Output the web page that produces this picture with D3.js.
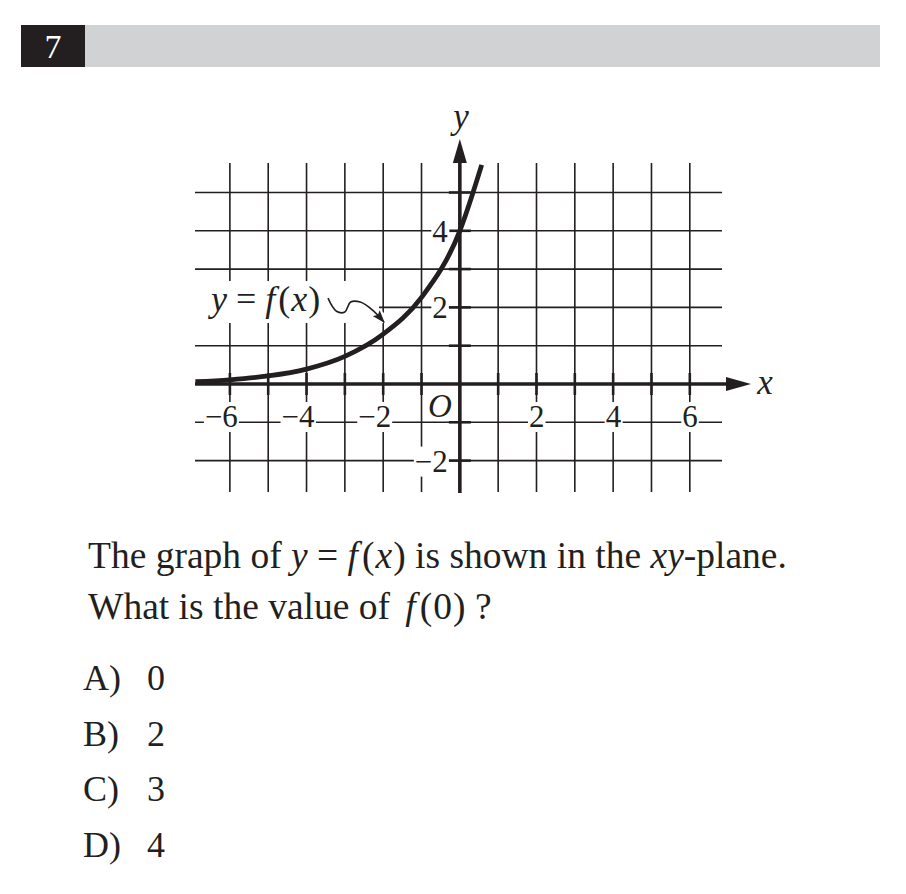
<!DOCTYPE html>
<html><head><meta charset="utf-8">
<script src="https://cdn.jsdelivr.net/npm/d3@7"></script>
<style>body{margin:0;background:#fff} svg{display:block}</style>
</head><body><svg id="c" width="906" height="894"></svg>
<script>
// ---- data ----
const curveX = [-6.9, -6, -5, -4, -3, -2, -1, 0, 0.57];
const curveY = [0.06, 0.11, 0.21, 0.39, 0.72, 1.3, 2.26, 4, 5.72];
const gridX = [-6, -5, -4, -3, -2, -1, 1, 2, 3, 4, 5, 6];
const gridY = [-2, -1, 1, 2, 3, 4, 5];
const xTickLabels = [-6, -4, -2, 2, 4, 6];
const yTickLabels = [4, 2, -2];
const squiggleX = [-3.44, -3.22, -3.0, -2.85, -2.6, -2.3, -1.98];
const squiggleY = [2.24, 1.9, 1.88, 2.14, 2.14, 1.95, 1.62];
const questionNumber = "7";
const choiceLetters = ["A)", "B)", "C)", "D)"];
const choiceValues = ["0", "2", "3", "4"];

const ink = "#231f20";
const serif = "'Liberation Serif', 'DejaVu Serif', serif";
const svg = d3.select("#c");

// header
svg.append("rect").attr("x", 85).attr("y", 25).attr("width", 795).attr("height", 42).attr("fill", "#d1d2d4");
svg.append("rect").attr("x", 21).attr("y", 25).attr("width", 64).attr("height", 42).attr("fill", ink);
svg.append("text").attr("x", 53).attr("y", 58).attr("text-anchor", "middle")
  .attr("font-family", serif).attr("font-size", 34).attr("fill", "#fff").text(questionNumber);

// scales
const x = d3.scaleLinear().domain([-6.91, 6.84]).range([195, 722]);
const y = d3.scaleLinear().domain([-2.82, 5.77]).range([492, 163]);
const [xmin, xmax] = x.domain(), [ymin, ymax] = y.domain();

const g = svg.append("g");
// grid
g.selectAll(".vg").data(gridX).join("line")
  .attr("x1", d => x(d)).attr("x2", d => x(d)).attr("y1", y(ymax)).attr("y2", y(ymin))
  .attr("stroke", ink).attr("stroke-width", 1.6);
g.selectAll(".hg").data(gridY).join("line")
  .attr("y1", d => y(d)).attr("y2", d => y(d)).attr("x1", x(xmin)).attr("x2", x(xmax))
  .attr("stroke", ink).attr("stroke-width", 1.6);
// ticks
g.selectAll(".xt").data(gridX).join("line")
  .attr("x1", d => x(d)).attr("x2", d => x(d)).attr("y1", y(0) - 11).attr("y2", y(0) + 11)
  .attr("stroke", ink).attr("stroke-width", 2.6);
g.selectAll(".yt").data(gridY).join("line")
  .attr("y1", d => y(d)).attr("y2", d => y(d)).attr("x1", x(0) - 11).attr("x2", x(0) + 11)
  .attr("stroke", ink).attr("stroke-width", 2.6);

// label with white background
function bgText(parent, build) {
  const grp = parent.append("g");
  const t = build(grp);
  const b = t.node().getBBox();
  grp.insert("rect", "text").attr("x", b.x - 1).attr("y", b.y + 3).attr("width", b.width + 2).attr("height", b.height - 5).attr("fill", "#fff");
  return grp;
}
xTickLabels.forEach(v => {
  bgText(g, p => p.append("text").attr("x", x(v) + 8).attr("y", y(0) + 43).attr("text-anchor", "end")
    .attr("font-family", serif).attr("font-size", 31).attr("fill", ink)
    .text((v < 0 ? "\u2212" : "") + Math.abs(v)));
});
yTickLabels.forEach(v => {
  bgText(g, p => p.append("text").attr("x", x(0) - 12).attr("y", y(v) + 11).attr("text-anchor", "end")
    .attr("font-family", serif).attr("font-size", 31).attr("fill", ink)
    .text((v < 0 ? "\u2212" : "") + Math.abs(v)));
});
g.append("text").attr("x", x(0) - 20).attr("y", y(0) + 33).attr("text-anchor", "middle")
  .attr("font-family", serif).attr("font-style", "italic").attr("font-size", 33).attr("fill", ink).text("O");

// function label
const lab = g.append("g");
lab.append("rect").attr("x", x(xmin)).attr("y", 281).attr("width", 184).attr("height", 42).attr("fill", "#fff");
const lt = lab.append("text").attr("x", 211).attr("y", 311).attr("font-family", serif).attr("font-size", 36).attr("fill", ink);
lt.append("tspan").attr("font-style", "italic").text("y");
lt.append("tspan").text(" = ");
lt.append("tspan").attr("font-style", "italic").text("f");
lt.append("tspan").attr("dx", 3).text("(");
lt.append("tspan").attr("font-style", "italic").attr("dx", 1).text("x");
lt.append("tspan").attr("dx", 1).text(")");

const defs = svg.append("defs");
defs.append("marker").attr("id", "ah").attr("viewBox", "0 0 10 10").attr("refX", 9).attr("refY", 5)
  .attr("markerWidth", 13).attr("markerHeight", 9).attr("markerUnits", "userSpaceOnUse").attr("orient", "auto")
  .attr("preserveAspectRatio", "none")
  .append("path").attr("d", "M0,0 L10,5 L0,10 L2,5 Z").attr("fill", ink);
const sq = d3.line().x((d, i) => x(squiggleX[i])).y((d, i) => y(squiggleY[i])).curve(d3.curveCatmullRom);
g.append("path").datum(squiggleX).attr("d", sq).attr("fill", "none").attr("stroke", "#fff").attr("stroke-width", 12);
g.append("path").datum(squiggleX).attr("d", sq).attr("fill", "none").attr("stroke", ink).attr("stroke-width", 1.6)
  .attr("marker-end", "url(#ah)");

// axes
g.append("line").attr("x1", x(xmin)).attr("x2", 730).attr("y1", y(0)).attr("y2", y(0)).attr("stroke", ink).attr("stroke-width", 3.6);
g.append("path").attr("d", `M${751},${y(0)} L${726},${y(0) - 7} L${726},${y(0) + 7} Z`).attr("fill", ink);
g.append("line").attr("x1", x(0)).attr("x2", x(0)).attr("y1", y(ymin) + 1).attr("y2", 158).attr("stroke", ink).attr("stroke-width", 3.6);
g.append("path").attr("d", `M${x(0)},${139} L${x(0) - 7},${163} L${x(0) + 7},${163} Z`).attr("fill", ink);
g.append("text").attr("x", 765).attr("y", 394).attr("text-anchor", "middle").attr("font-family", serif)
  .attr("font-style", "italic").attr("font-size", 35).attr("fill", ink).text("x");
g.append("text").attr("x", 461).attr("y", 128).attr("text-anchor", "middle").attr("font-family", serif)
  .attr("font-style", "italic").attr("font-size", 35).attr("fill", ink).text("y");

// curve
const line = d3.line().x((d, i) => x(curveX[i])).y((d, i) => y(curveY[i])).curve(d3.curveMonotoneX);
g.append("path").datum(curveX).attr("d", line).attr("fill", "none").attr("stroke", ink).attr("stroke-width", 4.8).attr("stroke-linecap", "butt");

// question text
const fs = 37.5;
const q1 = svg.append("text").attr("x", 88).attr("y", 568).attr("font-family", serif).attr("font-size", fs).attr("fill", ink);
[["The graph of ", 0, 0], ["y", 1, 0], [" = ", 0, 0], ["f", 1, 0], ["(", 0, 4], ["x", 1, 1], [")", 0, 1], [" is shown in the ", 0, 0], ["xy", 1, 0], ["-plane.", 0, 0]]
  .forEach(([s, it, dx]) => q1.append("tspan").attr("dx", dx).attr("font-style", it ? "italic" : "normal").text(s));
const q2 = svg.append("text").attr("x", 88).attr("y", 619).attr("font-family", serif).attr("font-size", fs).attr("fill", ink);
[["What is the value of ", 0, 0], ["f", 1, 6], ["(", 0, 4], ["0", 0, 1], [")", 0, 1], [" ?", 0, 0]]
  .forEach(([s, it, dx]) => q2.append("tspan").attr("dx", dx).attr("font-style", it ? "italic" : "normal").text(s));

choiceLetters.forEach((c, i) => {
  const by = 690 + i * 55.7;
  svg.append("text").attr("x", 83).attr("y", by).attr("font-family", serif).attr("font-size", 36).attr("fill", ink).text(c);
  svg.append("text").attr("x", 147).attr("y", by).attr("font-family", serif).attr("font-size", 36).attr("fill", ink).text(choiceValues[i]);
});
</script></body></html>
